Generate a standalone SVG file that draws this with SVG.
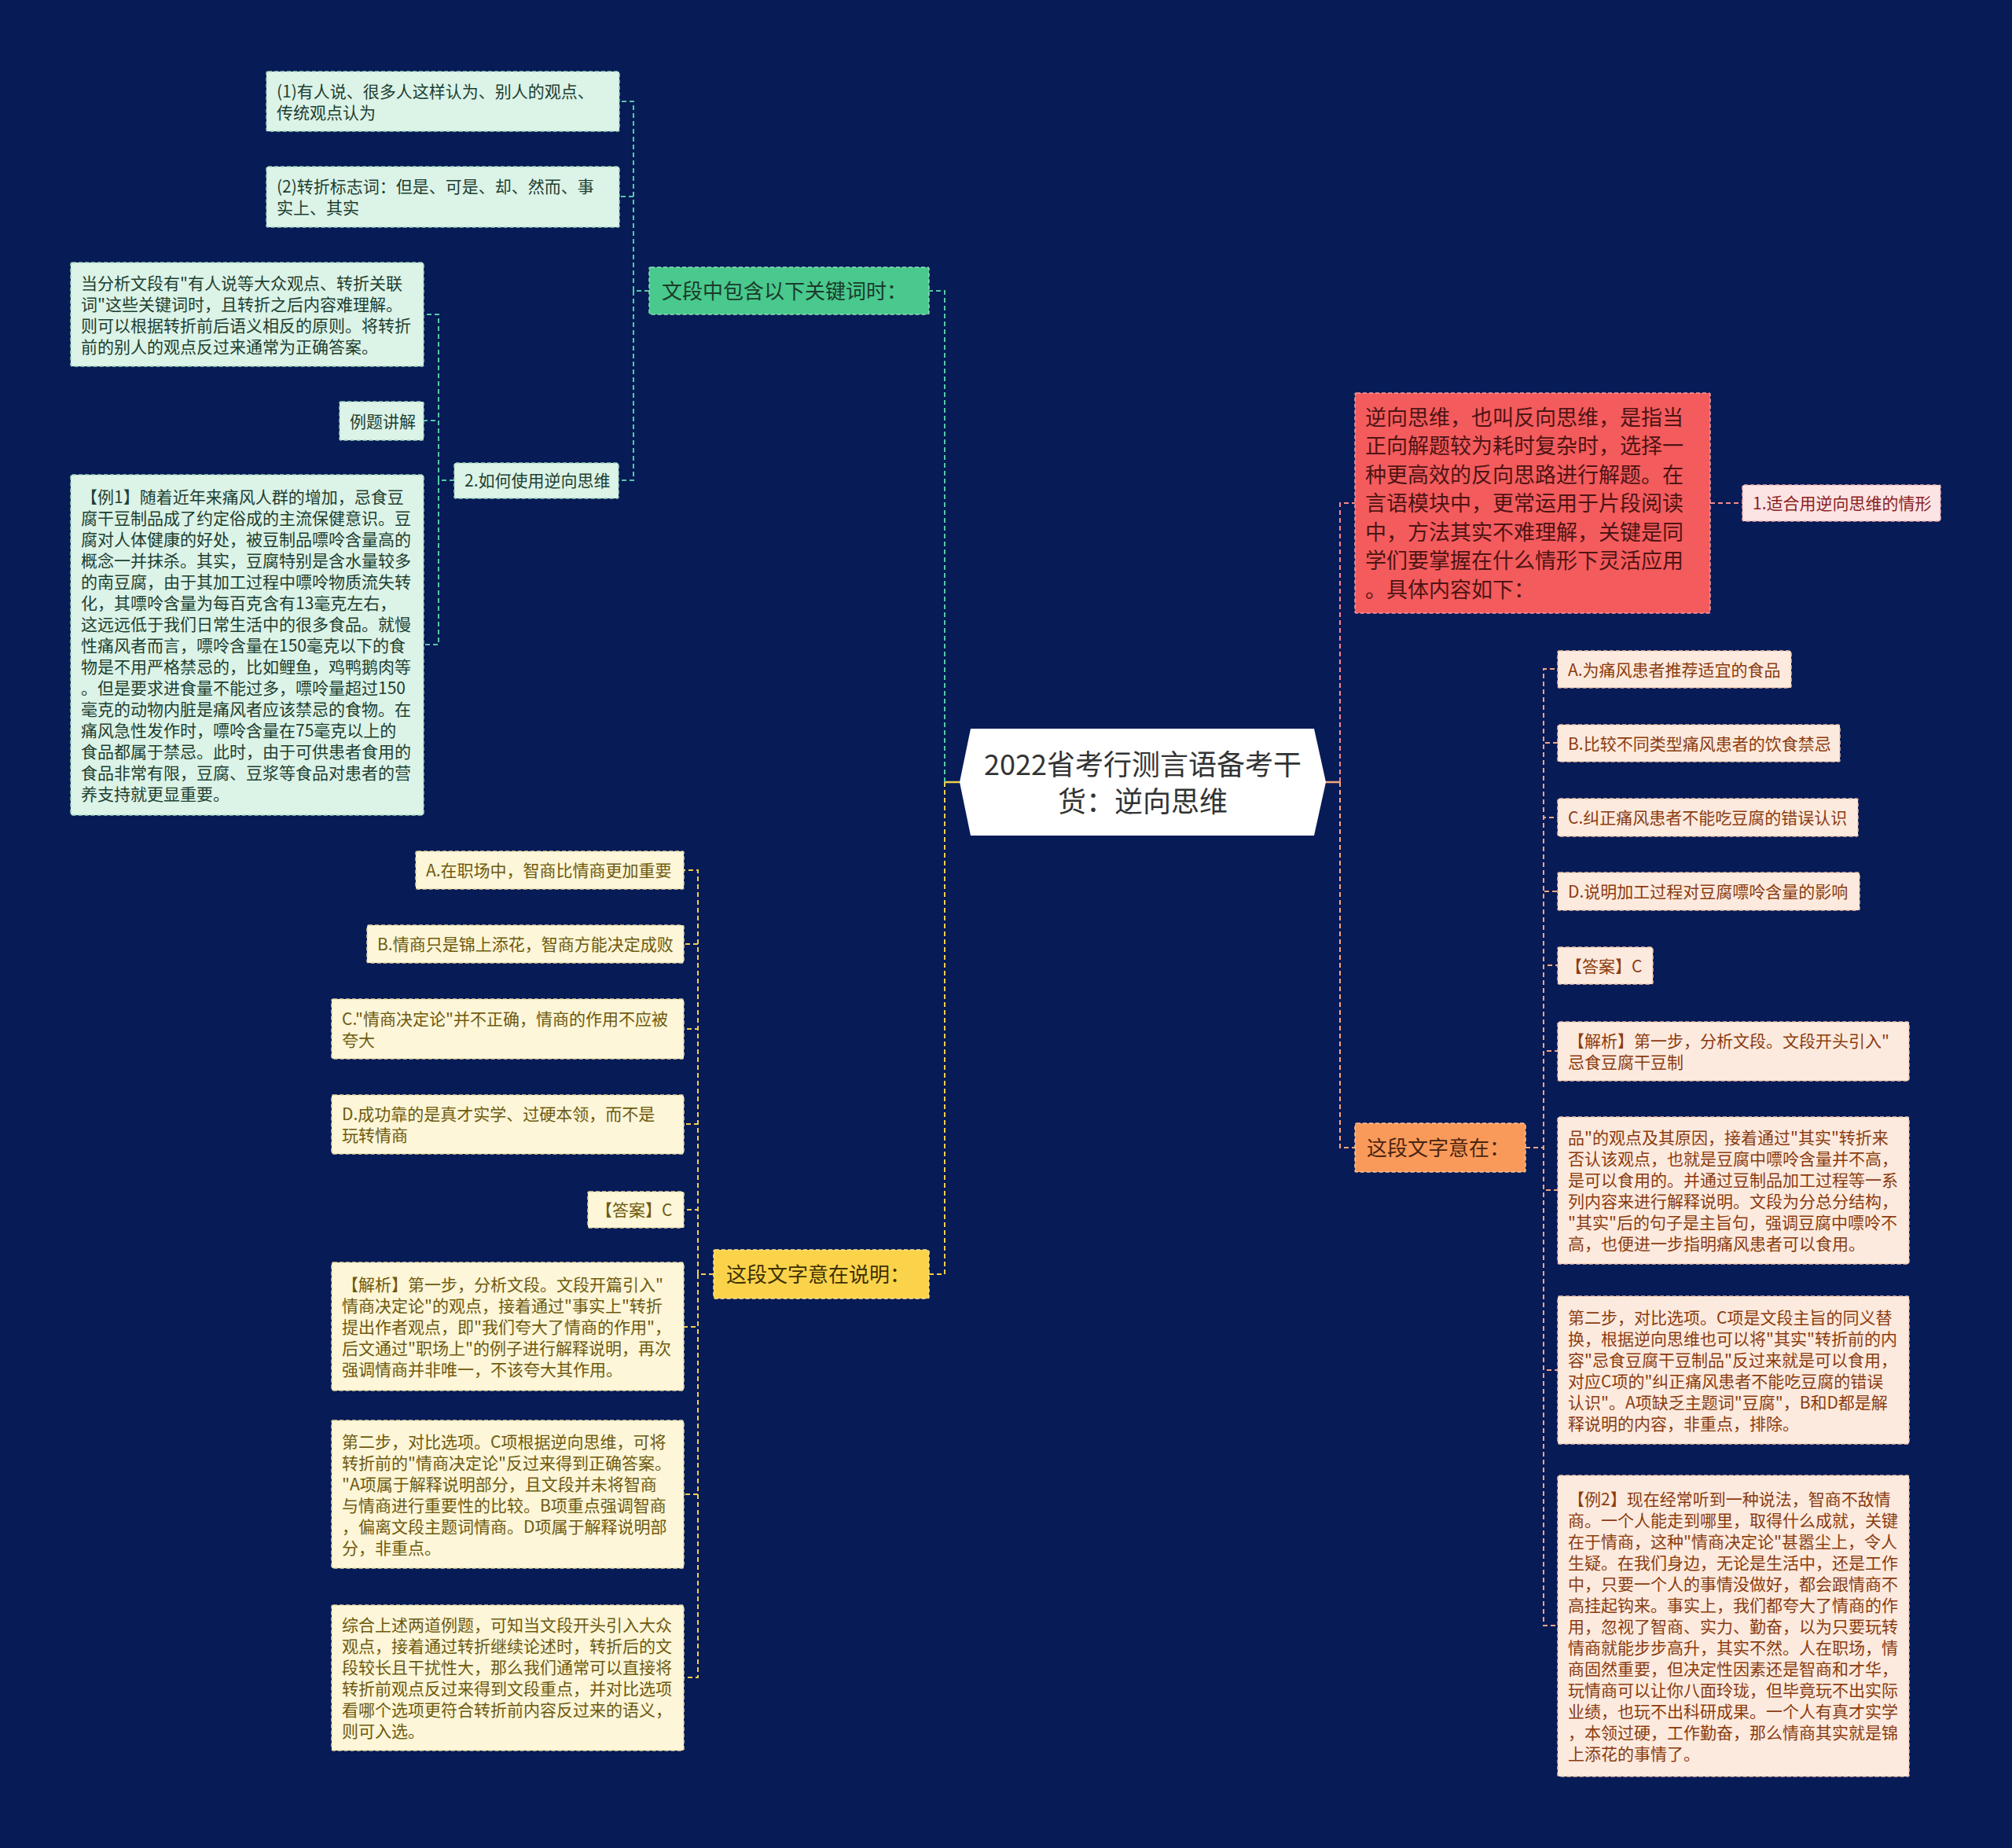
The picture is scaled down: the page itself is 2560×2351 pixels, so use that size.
<svg xmlns="http://www.w3.org/2000/svg" width="2560" height="2351" viewBox="0 0 2560 2351">
<style>
text{font-family:"Noto Sans CJK SC","Noto Sans",sans-serif;}
.c{fill:none;stroke-width:2;stroke-dasharray:6 4;}
.cg{stroke:#55c9a2}.cy{stroke:#f2cf4a}.cr{stroke:#f58a8a}.co{stroke:#f6a77e}
.b{stroke-width:1.5;stroke-dasharray:5 3;}
.gm{fill:#49c98d;stroke:#8fe0b8}.gc{fill:#dcf3e8;stroke:#9fd6bb}
.ym{fill:#fbd34b;stroke:#fde48a}.yc{fill:#fdf6d8;stroke:#e6d9a0}
.rm{fill:#f45b5d;stroke:#f99a9b}.rc{fill:#fde4e4;stroke:#f0b0b0}
.om{fill:#fa9a5a;stroke:#fcc19a}.oc{fill:#fdeade;stroke:#eec2a8}
.s21{font-size:21px}.s26{font-size:26px}.s27{font-size:27px}
.tg{fill:#1d4030}.tgm{fill:#1b3b2a}
.ty{fill:#6e5a10}.tym{fill:#3d3000}
.tr{fill:#8b1f1f}.trm{fill:#4f1414}
.to{fill:#8a3c10}.tom{fill:#4a2410}
</style>
<rect x="0" y="0" width="2560" height="2351" fill="#071b57"/>
<g id="connectors">
<path d="M1221 995H1202" stroke="#f2cf4a" stroke-width="2.5" fill="none"/>
<path d="M1682 995H1705" stroke="#f6a77e" stroke-width="2.5" fill="none"/>
<path class="c cg" d="M1202 995V370H1182"/>
<path class="c cy" d="M1202 995V1621H1182"/>
<path class="c cr" d="M1705 995V640H1724"/>
<path class="c co" d="M1705 995V1460H1724"/>
<path class="c cg" d="M826 370H806V129H788"/>
<path class="c cg" d="M826 370H806V250H788"/>
<path class="c cg" d="M826 370H806V611H787"/>
<path class="c cg" d="M578 611H558V400H539"/>
<path class="c cg" d="M578 611H558V535H539"/>
<path class="c cg" d="M578 611H558V820H539"/>
<path class="c cy" d="M908 1621H888V1107H870"/>
<path class="c cy" d="M908 1621H888V1201H870"/>
<path class="c cy" d="M908 1621H888V1309H870"/>
<path class="c cy" d="M908 1621H888V1430H870"/>
<path class="c cy" d="M908 1621H888V1539H870"/>
<path class="c cy" d="M908 1621H888V1688H870"/>
<path class="c cy" d="M908 1621H888V1901H870"/>
<path class="c cy" d="M908 1621H888V2134H870"/>
<path class="c cr" d="M2176 640H2217"/>
<path class="c co" d="M1941 1460H1964V851H1982"/>
<path class="c co" d="M1941 1460H1964V945H1982"/>
<path class="c co" d="M1941 1460H1964V1040H1982"/>
<path class="c co" d="M1941 1460H1964V1134H1982"/>
<path class="c co" d="M1941 1460H1964V1228H1982"/>
<path class="c co" d="M1941 1460H1964V1337H1982"/>
<path class="c co" d="M1941 1460H1964V1514H1982"/>
<path class="c co" d="M1941 1460H1964V1743H1982"/>
<path class="c co" d="M1941 1460H1964V2068H1982"/>
</g>
<g id="center">
<polygon points="1235,927 1672,927 1687,995 1672,1063 1235,1063 1221,995" fill="#ffffff"/>
<text x="1454" y="986" font-size="36" fill="#333333" text-anchor="middle">2022省考行测言语备考干</text>
<text x="1454" y="1033" font-size="36" fill="#333333" text-anchor="middle">货：逆向思维</text>
</g>
<g id="n-green">
<rect class="b gm" x="826" y="340" width="356" height="60" rx="2"/>
<text class="s26 tgm" x="842" y="380">文段中包含以下关键词时：</text>
</g>
<g id="n-g1">
<rect class="b gc" x="339" y="91" width="449" height="76" rx="2"/>
<text class="s21 tg" x="352" y="123.5">(1)有人说、很多人这样认为、别人的观点、<tspan x="352" dy="27">传统观点认为</tspan></text>
</g>
<g id="n-g2">
<rect class="b gc" x="339" y="212" width="449" height="77" rx="2"/>
<text class="s21 tg" x="352" y="245">(2)转折标志词：但是、可是、却、然而、事<tspan x="352" dy="27">实上、其实</tspan></text>
</g>
<g id="n-g3">
<rect class="b gc" x="578" y="589" width="209" height="45" rx="2"/>
<text class="s21 tg" x="591" y="619">2.如何使用逆向思维</text>
</g>
<g id="n-g31">
<rect class="b gc" x="90" y="334" width="449" height="132" rx="2"/>
<text class="s21 tg" x="103" y="367.5">当分析文段有"有人说等大众观点、转折关联<tspan x="103" dy="27">词"这些关键词时，且转折之后内容难理解。</tspan><tspan x="103" dy="27">则可以根据转折前后语义相反的原则。将转折</tspan><tspan x="103" dy="27">前的别人的观点反过来通常为正确答案。</tspan></text>
</g>
<g id="n-g32">
<rect class="b gc" x="432" y="511" width="107" height="49" rx="2"/>
<text class="s21 tg" x="445" y="543.5">例题讲解</text>
</g>
<g id="n-g33">
<rect class="b gc" x="90" y="604" width="449" height="433" rx="2"/>
<text class="s21 tg" x="103" y="639.5">【例1】随着近年来痛风人群的增加，忌食豆<tspan x="103" dy="27">腐干豆制品成了约定俗成的主流保健意识。豆</tspan><tspan x="103" dy="27">腐对人体健康的好处，被豆制品嘌呤含量高的</tspan><tspan x="103" dy="27">概念一并抹杀。其实，豆腐特别是含水量较多</tspan><tspan x="103" dy="27">的南豆腐，由于其加工过程中嘌呤物质流失转</tspan><tspan x="103" dy="27">化，其嘌呤含量为每百克含有13毫克左右，</tspan><tspan x="103" dy="27">这远远低于我们日常生活中的很多食品。就慢</tspan><tspan x="103" dy="27">性痛风者而言，嘌呤含量在150毫克以下的食</tspan><tspan x="103" dy="27">物是不用严格禁忌的，比如鲤鱼，鸡鸭鹅肉等</tspan><tspan x="103" dy="27">。但是要求进食量不能过多，嘌呤量超过150</tspan><tspan x="103" dy="27">毫克的动物内脏是痛风者应该禁忌的食物。在</tspan><tspan x="103" dy="27">痛风急性发作时，嘌呤含量在75毫克以上的</tspan><tspan x="103" dy="27">食品都属于禁忌。此时，由于可供患者食用的</tspan><tspan x="103" dy="27">食品非常有限，豆腐、豆浆等食品对患者的营</tspan><tspan x="103" dy="27">养支持就更显重要。</tspan></text>
</g>
<g id="n-yellow">
<rect class="b ym" x="908" y="1590" width="274" height="62" rx="2"/>
<text class="s26 tym" x="924" y="1631">这段文字意在说明：</text>
</g>
<g id="n-y1">
<rect class="b yc" x="529" y="1083" width="341" height="48" rx="2"/>
<text class="s21 ty" x="542" y="1115">A.在职场中，智商比情商更加重要</text>
</g>
<g id="n-y2">
<rect class="b yc" x="467" y="1177" width="403" height="48" rx="2"/>
<text class="s21 ty" x="480" y="1209">B.情商只是锦上添花，智商方能决定成败</text>
</g>
<g id="n-y3">
<rect class="b yc" x="422" y="1271" width="448" height="76" rx="2"/>
<text class="s21 ty" x="435" y="1303.5">C."情商决定论"并不正确，情商的作用不应被<tspan x="435" dy="27">夸大</tspan></text>
</g>
<g id="n-y4">
<rect class="b yc" x="422" y="1393" width="448" height="75" rx="2"/>
<text class="s21 ty" x="435" y="1425">D.成功靠的是真才实学、过硬本领，而不是<tspan x="435" dy="27">玩转情商</tspan></text>
</g>
<g id="n-y5">
<rect class="b yc" x="748" y="1516" width="122" height="46" rx="2"/>
<text class="s21 ty" x="758" y="1547">【答案】C</text>
</g>
<g id="n-y6">
<rect class="b yc" x="422" y="1606" width="448" height="163" rx="2"/>
<text class="s21 ty" x="435" y="1642">【解析】第一步，分析文段。文段开篇引入"<tspan x="435" dy="27">情商决定论"的观点，接着通过"事实上"转折</tspan><tspan x="435" dy="27">提出作者观点，即"我们夸大了情商的作用"，</tspan><tspan x="435" dy="27">后文通过"职场上"的例子进行解释说明，再次</tspan><tspan x="435" dy="27">强调情商并非唯一，不该夸大其作用。</tspan></text>
</g>
<g id="n-y7">
<rect class="b yc" x="422" y="1807" width="448" height="188" rx="2"/>
<text class="s21 ty" x="435" y="1841.5">第二步，对比选项。C项根据逆向思维，可将<tspan x="435" dy="27">转折前的"情商决定论"反过来得到正确答案。</tspan><tspan x="435" dy="27">"A项属于解释说明部分，且文段并未将智商</tspan><tspan x="435" dy="27">与情商进行重要性的比较。B项重点强调智商</tspan><tspan x="435" dy="27">，偏离文段主题词情商。D项属于解释说明部</tspan><tspan x="435" dy="27">分，非重点。</tspan></text>
</g>
<g id="n-y8">
<rect class="b yc" x="422" y="2042" width="448" height="185" rx="2"/>
<text class="s21 ty" x="435" y="2075">综合上述两道例题，可知当文段开头引入大众<tspan x="435" dy="27">观点，接着通过转折继续论述时，转折后的文</tspan><tspan x="435" dy="27">段较长且干扰性大，那么我们通常可以直接将</tspan><tspan x="435" dy="27">转折前观点反过来得到文段重点，并对比选项</tspan><tspan x="435" dy="27">看哪个选项更符合转折前内容反过来的语义，</tspan><tspan x="435" dy="27">则可入选。</tspan></text>
</g>
<g id="n-red">
<rect class="b rm" x="1724" y="500" width="452" height="280" rx="2"/>
<text class="s27 trm" x="1737" y="540.5">逆向思维，也叫反向思维，是指当<tspan x="1737" dy="36.5">正向解题较为耗时复杂时，选择一</tspan><tspan x="1737" dy="36.5">种更高效的反向思路进行解题。在</tspan><tspan x="1737" dy="36.5">言语模块中，更常运用于片段阅读</tspan><tspan x="1737" dy="36.5">中，方法其实不难理解，关键是同</tspan><tspan x="1737" dy="36.5">学们要掌握在什么情形下灵活应用</tspan><tspan x="1737" dy="36.5">。具体内容如下：</tspan></text>
</g>
<g id="n-r1">
<rect class="b rc" x="2217" y="617" width="252" height="46" rx="2"/>
<text class="s21 tr" x="2230" y="648">1.适合用逆向思维的情形</text>
</g>
<g id="n-orange">
<rect class="b om" x="1724" y="1429" width="217" height="62" rx="2"/>
<text class="s26 tom" x="1739" y="1470">这段文字意在：</text>
</g>
<g id="n-o1">
<rect class="b oc" x="1982" y="828" width="297" height="47" rx="2"/>
<text class="s21 to" x="1995" y="859.5">A.为痛风患者推荐适宜的食品</text>
</g>
<g id="n-o2">
<rect class="b oc" x="1982" y="922" width="359" height="47" rx="2"/>
<text class="s21 to" x="1995" y="953.5">B.比较不同类型痛风患者的饮食禁忌</text>
</g>
<g id="n-o3">
<rect class="b oc" x="1982" y="1016" width="382" height="48" rx="2"/>
<text class="s21 to" x="1995" y="1048">C.纠正痛风患者不能吃豆腐的错误认识</text>
</g>
<g id="n-o4">
<rect class="b oc" x="1982" y="1110" width="384" height="48" rx="2"/>
<text class="s21 to" x="1995" y="1142">D.说明加工过程对豆腐嘌呤含量的影响</text>
</g>
<g id="n-o5">
<rect class="b oc" x="1982" y="1205" width="121" height="47" rx="2"/>
<text class="s21 to" x="1992" y="1236.5">【答案】C</text>
</g>
<g id="n-o6">
<rect class="b oc" x="1982" y="1300" width="447" height="75" rx="2"/>
<text class="s21 to" x="1995" y="1332">【解析】第一步，分析文段。文段开头引入"<tspan x="1995" dy="27">忌食豆腐干豆制</tspan></text>
</g>
<g id="n-o7">
<rect class="b oc" x="1982" y="1421" width="447" height="187" rx="2"/>
<text class="s21 to" x="1995" y="1455">品"的观点及其原因，接着通过"其实"转折来<tspan x="1995" dy="27">否认该观点，也就是豆腐中嘌呤含量并不高，</tspan><tspan x="1995" dy="27">是可以食用的。并通过豆制品加工过程等一系</tspan><tspan x="1995" dy="27">列内容来进行解释说明。文段为分总分结构，</tspan><tspan x="1995" dy="27">"其实"后的句子是主旨句，强调豆腐中嘌呤不</tspan><tspan x="1995" dy="27">高，也便进一步指明痛风患者可以食用。</tspan></text>
</g>
<g id="n-o8">
<rect class="b oc" x="1982" y="1649" width="447" height="188" rx="2"/>
<text class="s21 to" x="1995" y="1683.5">第二步，对比选项。C项是文段主旨的同义替<tspan x="1995" dy="27">换，根据逆向思维也可以将"其实"转折前的内</tspan><tspan x="1995" dy="27">容"忌食豆腐干豆制品"反过来就是可以食用，</tspan><tspan x="1995" dy="27">对应C项的"纠正痛风患者不能吃豆腐的错误</tspan><tspan x="1995" dy="27">认识"。A项缺乏主题词"豆腐"，B和D都是解</tspan><tspan x="1995" dy="27">释说明的内容，非重点，排除。</tspan></text>
</g>
<g id="n-o9">
<rect class="b oc" x="1982" y="1877" width="447" height="383" rx="2"/>
<text class="s21 to" x="1995" y="1914.5">【例2】现在经常听到一种说法，智商不敌情<tspan x="1995" dy="27">商。一个人能走到哪里，取得什么成就，关键</tspan><tspan x="1995" dy="27">在于情商，这种"情商决定论"甚嚣尘上，令人</tspan><tspan x="1995" dy="27">生疑。在我们身边，无论是生活中，还是工作</tspan><tspan x="1995" dy="27">中，只要一个人的事情没做好，都会跟情商不</tspan><tspan x="1995" dy="27">高挂起钩来。事实上，我们都夸大了情商的作</tspan><tspan x="1995" dy="27">用，忽视了智商、实力、勤奋，以为只要玩转</tspan><tspan x="1995" dy="27">情商就能步步高升，其实不然。人在职场，情</tspan><tspan x="1995" dy="27">商固然重要，但决定性因素还是智商和才华，</tspan><tspan x="1995" dy="27">玩情商可以让你八面玲珑，但毕竟玩不出实际</tspan><tspan x="1995" dy="27">业绩，也玩不出科研成果。一个人有真才实学</tspan><tspan x="1995" dy="27">，本领过硬，工作勤奋，那么情商其实就是锦</tspan><tspan x="1995" dy="27">上添花的事情了。</tspan></text>
</g>
</svg>
